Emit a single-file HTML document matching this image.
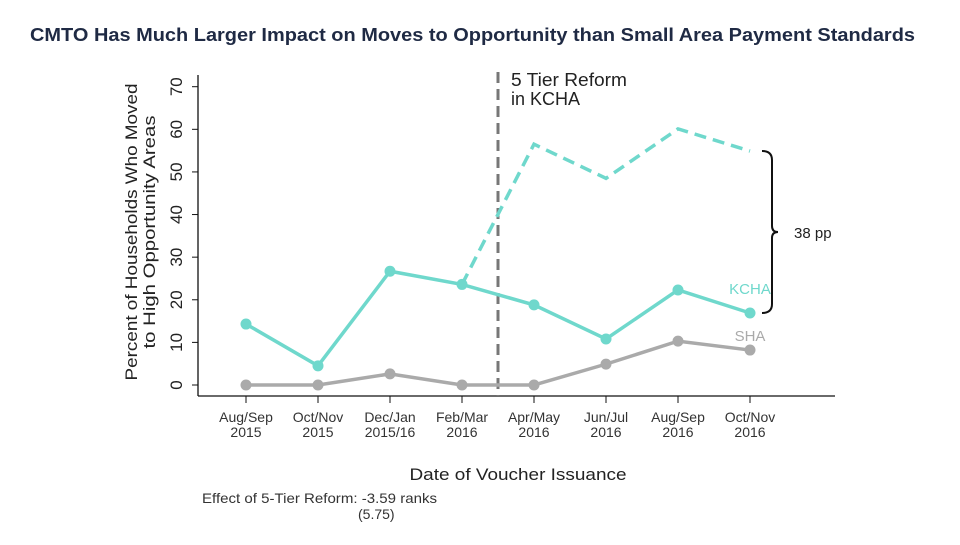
<!DOCTYPE html>
<html><head><meta charset="utf-8"><style>
body{margin:0;background:#fff;width:960px;height:540px;overflow:hidden;font-family:"Liberation Sans",sans-serif}
</style></head><body>
<svg width="960" height="540" style="font-family:'Liberation Sans',sans-serif">
<text x="30" y="41" font-size="18" font-weight="bold" fill="#1f2a44" textLength="885" lengthAdjust="spacingAndGlyphs">CMTO Has Much Larger Impact on Moves to Opportunity than Small Area Payment Standards</text>
<g id="axes"></g>
<g id="marks"></g>
<text transform="translate(137,232) rotate(-90)" text-anchor="middle" font-size="17" fill="#222"><tspan x="0" y="0" textLength="297" lengthAdjust="spacingAndGlyphs">Percent of Households Who Moved</tspan><tspan x="0" y="18" textLength="233" lengthAdjust="spacingAndGlyphs">to High Opportunity Areas</tspan></text>
<text x="518" y="480" text-anchor="middle" font-size="17" fill="#222" textLength="217" lengthAdjust="spacingAndGlyphs">Date of Voucher Issuance</text>
<text font-size="14" fill="#333"><tspan x="202" y="503" textLength="235" lengthAdjust="spacingAndGlyphs">Effect of 5-Tier Reform: -3.59 ranks</tspan><tspan x="358" y="519">(5.75)</tspan></text>
<text font-size="18" fill="#222"><tspan x="511" y="86" textLength="116" lengthAdjust="spacingAndGlyphs">5 Tier Reform</tspan><tspan x="511" y="105">in KCHA</tspan></text>
<path d="M762,151 Q772,151 772,160 L772,226 Q772,232 778,232 Q772,232 772,238 L772,304 Q772,313 762,313" fill="none" stroke="#111" stroke-width="2"/>
<text x="794" y="238" font-size="15" fill="#222">38 pp</text>
<text x="750" y="294" text-anchor="middle" font-size="15" fill="#6fd8cc">KCHA</text>
<text x="750" y="341" text-anchor="middle" font-size="15" fill="#aaa">SHA</text>
</svg>
<script>
const categories=[["Aug/Sep","2015"],["Oct/Nov","2015"],["Dec/Jan","2015/16"],["Feb/Mar","2016"],["Apr/May","2016"],["Jun/Jul","2016"],["Aug/Sep","2016"],["Oct/Nov","2016"]];
const kcha=[14.3,4.5,26.7,23.6,18.8,10.8,22.3,16.9];
const sha=[0,0,2.6,0,0,4.9,10.3,8.2];
const kchaCounterfactual=[null,null,null,23.6,56.5,48.5,60.1,54.9];
const yTicks=[0,10,20,30,40,50,60,70];
const reformIndex=3.5;
const NS="http://www.w3.org/2000/svg";
const x=i=>246+i*72;
const y=v=>385-v*(298.3/70);
function mk(tag,attrs,parent){const e=document.createElementNS(NS,tag);for(const k in attrs)e.setAttribute(k,attrs[k]);parent.appendChild(e);return e;}
const ax=document.getElementById('axes'),mg=document.getElementById('marks');
let l=mk('line',{x1:198,y1:75,x2:198,y2:396,stroke:'#111','stroke-width':1.3},ax);


l=mk('line',{x1:198,y1:396,x2:835,y2:396,stroke:'#111','stroke-width':1.3},ax);


yTicks.forEach(t=>{
 mk('line',{x1:192,x2:198,y1:y(t),y2:y(t),stroke:'#111'},ax);
 const tx=mk('text',{transform:`translate(182,${y(t)}) rotate(-90)`,'text-anchor':'middle','font-size':17,fill:'#222'},ax);
 tx.textContent=t;
 
 
});
categories.forEach((c,i)=>{
 mk('line',{x1:x(i),x2:x(i),y1:396,y2:403,stroke:'#111'},ax);
 const tx=mk('text',{x:x(i),y:422,'text-anchor':'middle','font-size':14,fill:'#333'},ax);
 
 
 const a=mk('tspan',{x:x(i)},tx);a.textContent=c[0];
 const b=mk('tspan',{x:x(i),dy:15},tx);b.textContent=c[1];
});
l=mk('line',{x1:x(reformIndex),x2:x(reformIndex),y1:72,y2:396,stroke:'#777','stroke-width':3,'stroke-dasharray':'11,6'},mg);


function series(vals,color,name,dash,dots){
 const pts=vals.map((v,i)=>v==null?null:[x(i),y(v)]).filter(p=>p);
 const p=mk('polyline',{points:pts.map(p=>p.join(',')).join(' '),fill:'none',stroke:color,'stroke-width':3.5},mg);
 if(dash)p.setAttribute('stroke-dasharray','12,7');
 
 
 if(dots)pts.forEach(q=>{const c=mk('circle',{cx:q[0],cy:q[1],r:5.5,fill:color},mg);
  
  });
}
series(kchaCounterfactual,'#6fd8cc','kcha-counterfactual',true,false);
series(sha,'#aaaaaa','sha',false,true);
series(kcha,'#6fd8cc','kcha',false,true);
</script>
</body></html>
